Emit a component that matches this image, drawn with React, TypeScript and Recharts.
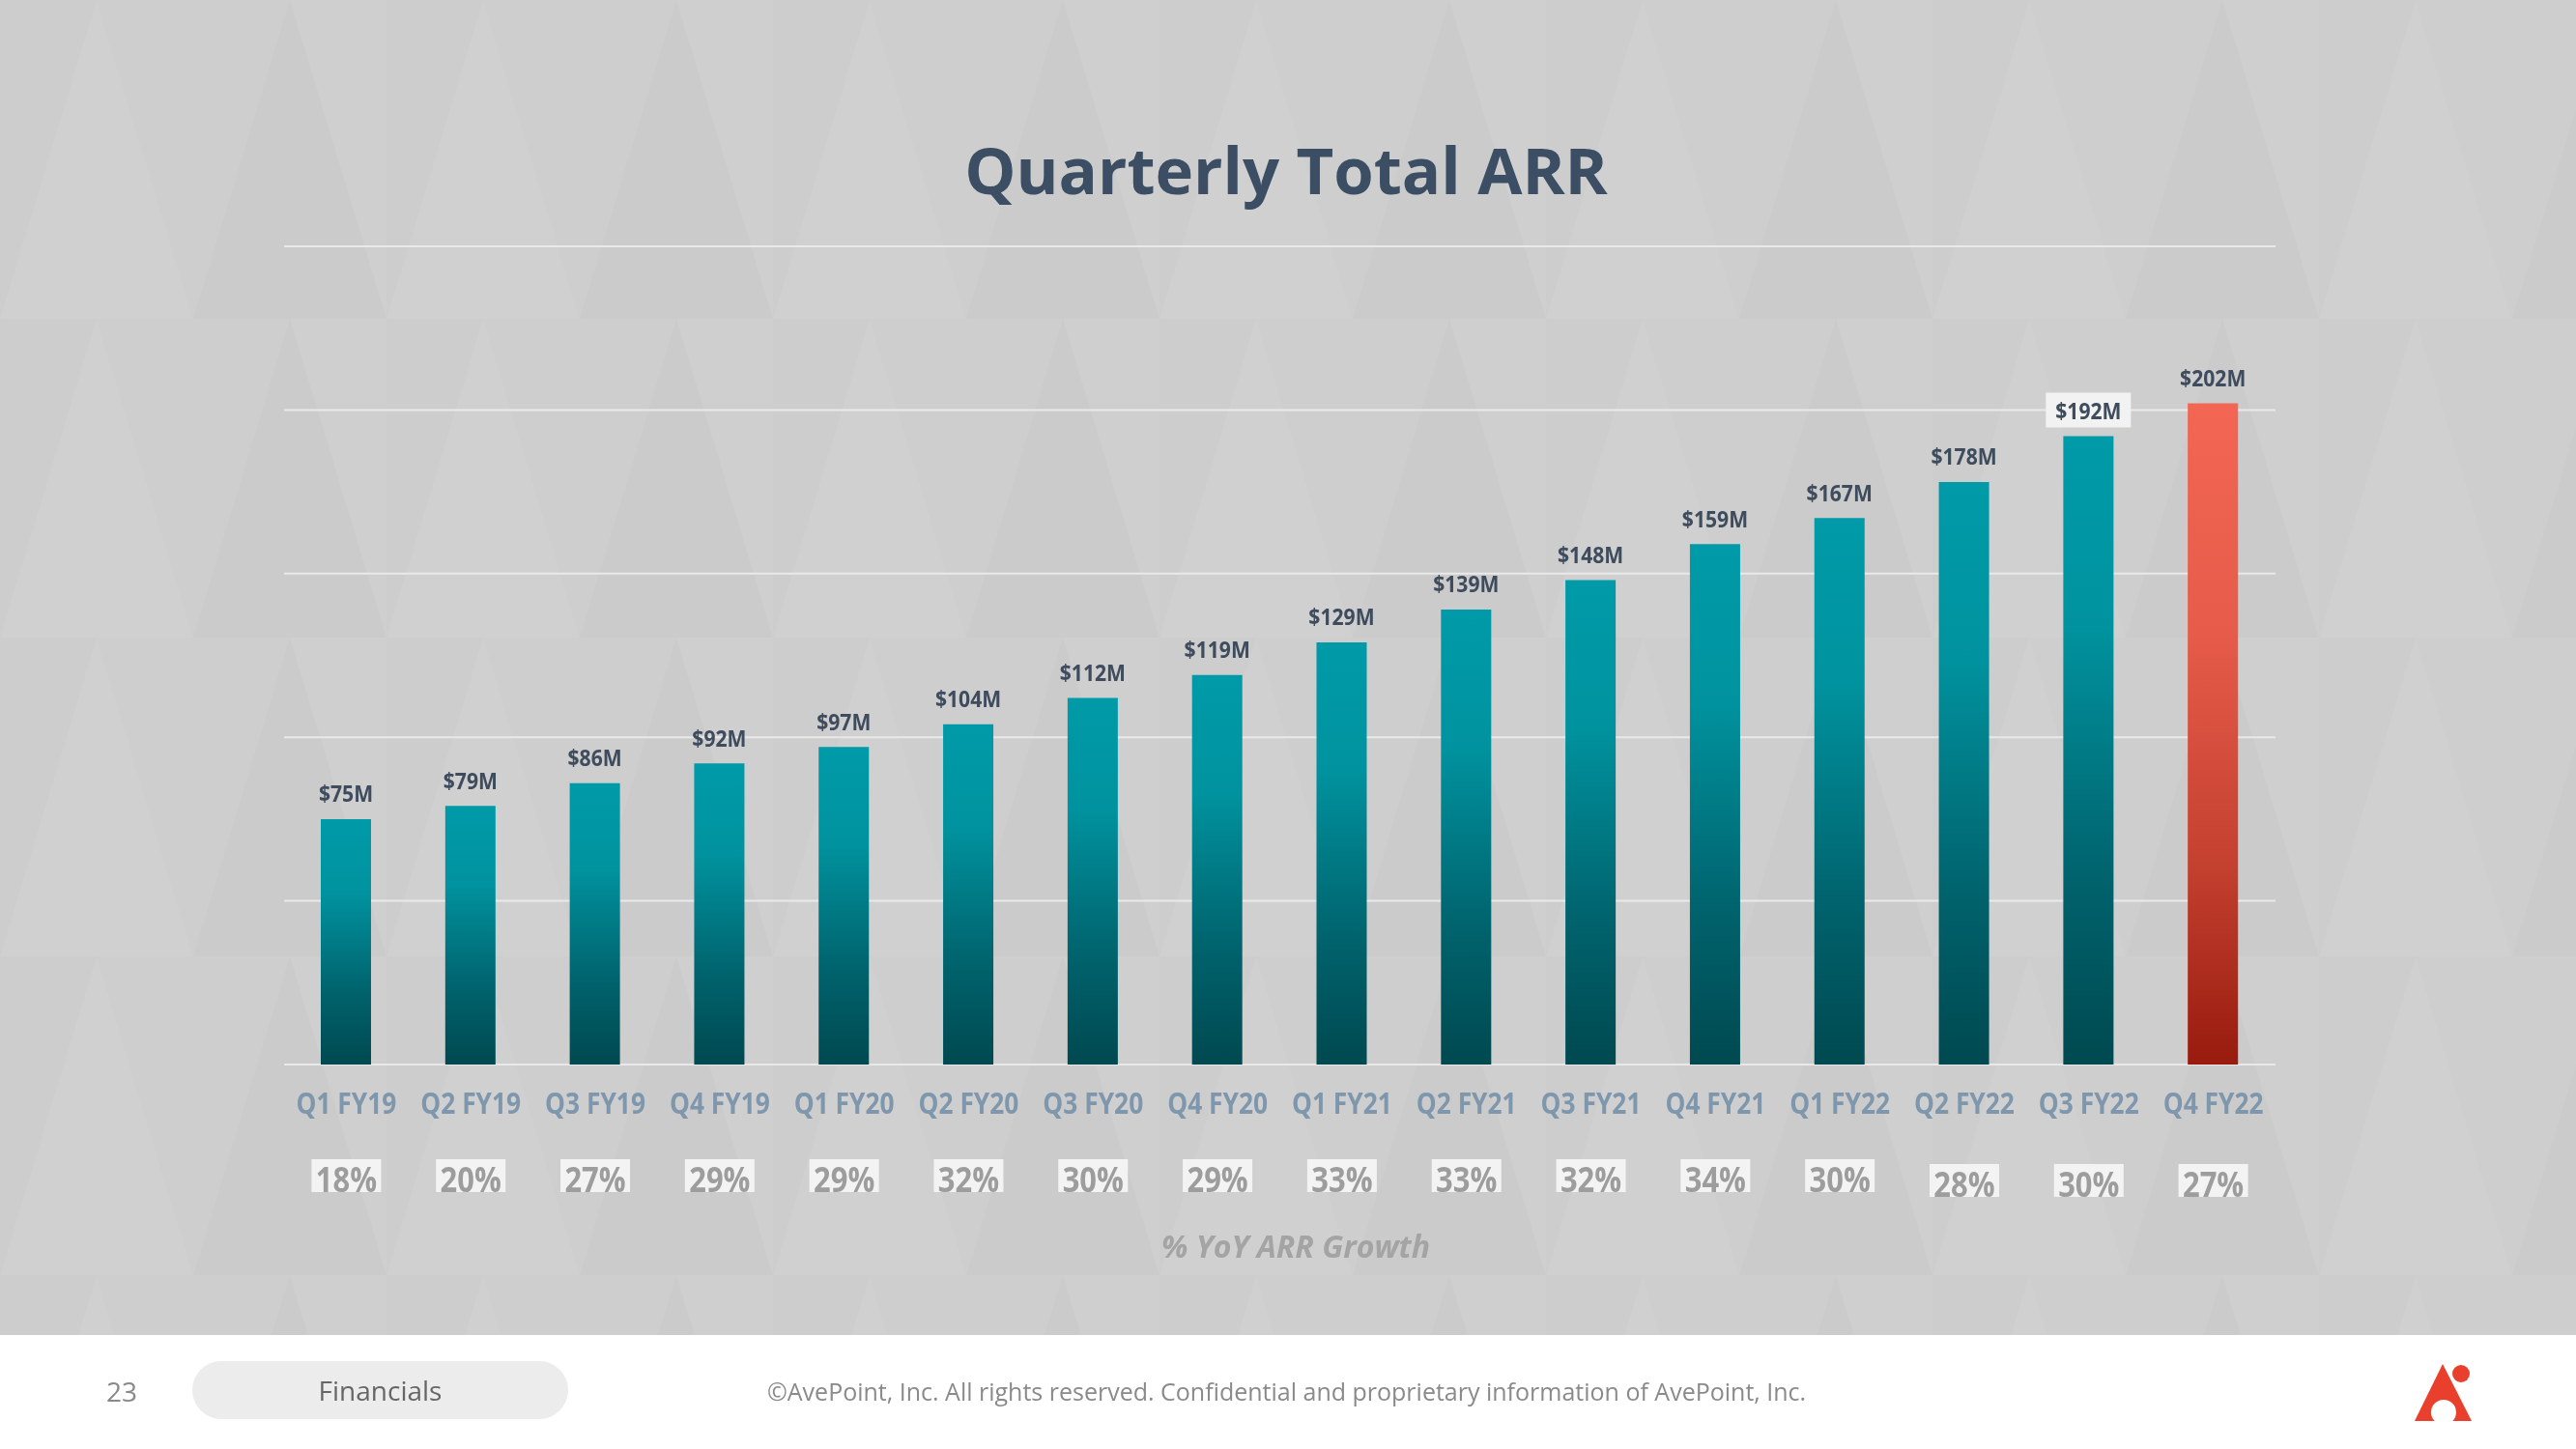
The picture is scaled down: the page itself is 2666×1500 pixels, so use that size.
import React from "react";
import { BarChart, Bar, XAxis, YAxis, CartesianGrid, Cell, LabelList } from "recharts";

const quarters = [
  "Q1 FY19", "Q2 FY19", "Q3 FY19", "Q4 FY19",
  "Q1 FY20", "Q2 FY20", "Q3 FY20", "Q4 FY20",
  "Q1 FY21", "Q2 FY21", "Q3 FY21", "Q4 FY21",
  "Q1 FY22", "Q2 FY22", "Q3 FY22", "Q4 FY22",
];
const arr = [75, 79, 86, 92, 97, 104, 112, 119, 129, 139, 148, 159, 167, 178, 192, 202];
const growth = [18, 20, 27, 29, 29, 32, 30, 29, 33, 33, 32, 34, 30, 28, 30, 27];
const yTicks = [0, 50, 100, 150, 200, 250];

const data = quarters.map((q, i) => ({ name: q, arr: arr[i] }));

const FONT = "'Open Sans', 'Noto Sans', sans-serif";

// condensed look: squeeze the text horizontally
const QuarterTick = (props: any) => {
  const { x, y, payload } = props;
  const i = payload.index;
  const lowered = i >= 13 ? 5 : 0;
  return (
    <g>
      <text
        transform={`translate(${x} ${y + 39}) scale(0.85 1)`}
        textAnchor="middle"
        dominantBaseline="central"
        fill="#7f97ad"
        fontFamily={FONT}
        fontWeight={700}
        fontSize={31}
      >
        {payload.value}
      </text>
      <rect x={x - 36} y={y + 98 + lowered} width={72} height={34} fill="#f3f3f3" />
      <text
        transform={`translate(${x} ${y + 118 + lowered}) scale(0.86 1)`}
        textAnchor="middle"
        dominantBaseline="central"
        fill="#9d9d9d"
        fontFamily={FONT}
        fontWeight={700}
        fontSize={36}
      >
        {growth[i]}%
      </text>
    </g>
  );
};

const ValueLabel = (props: any) => {
  const { x, y, width, value, index } = props;
  const cx = x + width / 2;
  const cy = y - 27;
  return (
    <g>
      {index === 14 && <rect x={cx - 44} y={cy - 18} width={88} height={36} fill="#f2f2f2" />}
      <text
        transform={`translate(${cx} ${cy}) scale(0.92 1)`}
        textAnchor="middle"
        dominantBaseline="central"
        fill="#3e4c5d"
        fontFamily={FONT}
        fontWeight={700}
        fontSize={23}
      >
        ${value}M
      </text>
    </g>
  );
};

const Background = () => (
  <svg width={2666} height={1500} style={{ position: "absolute", left: 0, top: 0 }}>
    <defs>
      <pattern id="tri" width={400} height={330} patternUnits="userSpaceOnUse">
        <rect width={400} height={330} fill="#cdcdcd" />
        <polygon points="0,330 100,0 200,330" fill="#d0d0d0" />
        <polygon points="200,330 300,0 400,330" fill="#cbcbcb" />
        <polygon points="100,0 200,330 300,0" fill="#cecece" />
        <polygon points="300,0 400,330 400,0" fill="#cfcfcf" />
      </pattern>
    </defs>
    <rect width={2666} height={1382} fill="url(#tri)" />
    <rect y={1382} width={2666} height={118} fill="#ffffff" />
    <rect x={199} y={1409} width={389} height={60} rx={30} fill="#ececec" />
    <polygon points="2528,1412 2558,1471 2499,1471" fill="#e8402c" />
    <circle cx={2529} cy={1462} r={13} fill="#ffffff" />
    <rect x={2510} y={1471} width={40} height={10} fill="#ffffff" />
    <circle cx={2547} cy={1422} r={9} fill="#e8402c" />
  </svg>
);

export default function App() {
  return (
    <div style={{ position: "fixed", left: 0, top: 0, width: 2666, height: 1500, overflow: "hidden", fontFamily: FONT }}>
      <Background />
      <div
        style={{
          position: "absolute",
          left: 0,
          top: 128,
          width: 2662,
          textAlign: "center",
          fontSize: 67,
          fontWeight: 700,
          color: "#3c4e63",
          lineHeight: "94px",
        }}
      >
        Quarterly Total ARR
      </div>
      <div style={{ position: "absolute", left: 0, top: 0 }}>
        <BarChart
          width={2666}
          height={1500}
          data={data}
          margin={{ top: 255, right: 311, bottom: 198, left: 294 }}
        >
          <defs>
            <linearGradient id="tealGrad" x1="0" y1="0" x2="0" y2="1">
              <stop offset="0%" stopColor="#009aa8" />
              <stop offset="30%" stopColor="#00939f" />
              <stop offset="70%" stopColor="#00636d" />
              <stop offset="100%" stopColor="#004950" />
            </linearGradient>
            <linearGradient id="redGrad" x1="0" y1="0" x2="0" y2="1">
              <stop offset="0%" stopColor="#f26653" />
              <stop offset="35%" stopColor="#e65b49" />
              <stop offset="70%" stopColor="#c4402f" />
              <stop offset="100%" stopColor="#981b0e" />
            </linearGradient>
          </defs>
          <CartesianGrid vertical={false} stroke="#e9e9e9" strokeWidth={2} />
          <XAxis
            dataKey="name"
            height={200}
            axisLine={false}
            tickLine={false}
            tickSize={0}
            tickMargin={0}
            interval={0}
            tick={<QuarterTick />}
          />
          <YAxis hide domain={[0, 250]} ticks={yTicks} />
          <Bar dataKey="arr" barSize={52} isAnimationActive={false}>
            {data.map((d, i) => (
              <Cell key={d.name} fill={i === data.length - 1 ? "url(#redGrad)" : "url(#tealGrad)"} />
            ))}
            <LabelList dataKey="arr" content={<ValueLabel />} />
          </Bar>
        </BarChart>
      </div>
      <div
        style={{
          position: "absolute",
          left: 0,
          top: 1268,
          width: 2682,
          textAlign: "center",
          fontSize: 32,
          fontWeight: 700,
          fontStyle: "italic",
          color: "#a4a4a4",
          lineHeight: "44px",
        }}
      >
        % YoY ARR Growth
      </div>
      <div style={{ position: "absolute", left: 100, top: 1420, width: 52, textAlign: "center", fontSize: 28, color: "#8a8a8a", lineHeight: "40px" }}>
        23
      </div>
      <div style={{ position: "absolute", left: 199, top: 1419, width: 389, textAlign: "center", fontSize: 28, color: "#666666", lineHeight: "40px" }}>
        Financials
      </div>
      <div style={{ position: "absolute", left: 794, top: 1422, fontSize: 25, color: "#8a8a8a", lineHeight: "36px", whiteSpace: "nowrap" }}>
        ©AvePoint, Inc. All rights reserved. Confidential and proprietary information of AvePoint, Inc.
      </div>
    </div>
  );
}
